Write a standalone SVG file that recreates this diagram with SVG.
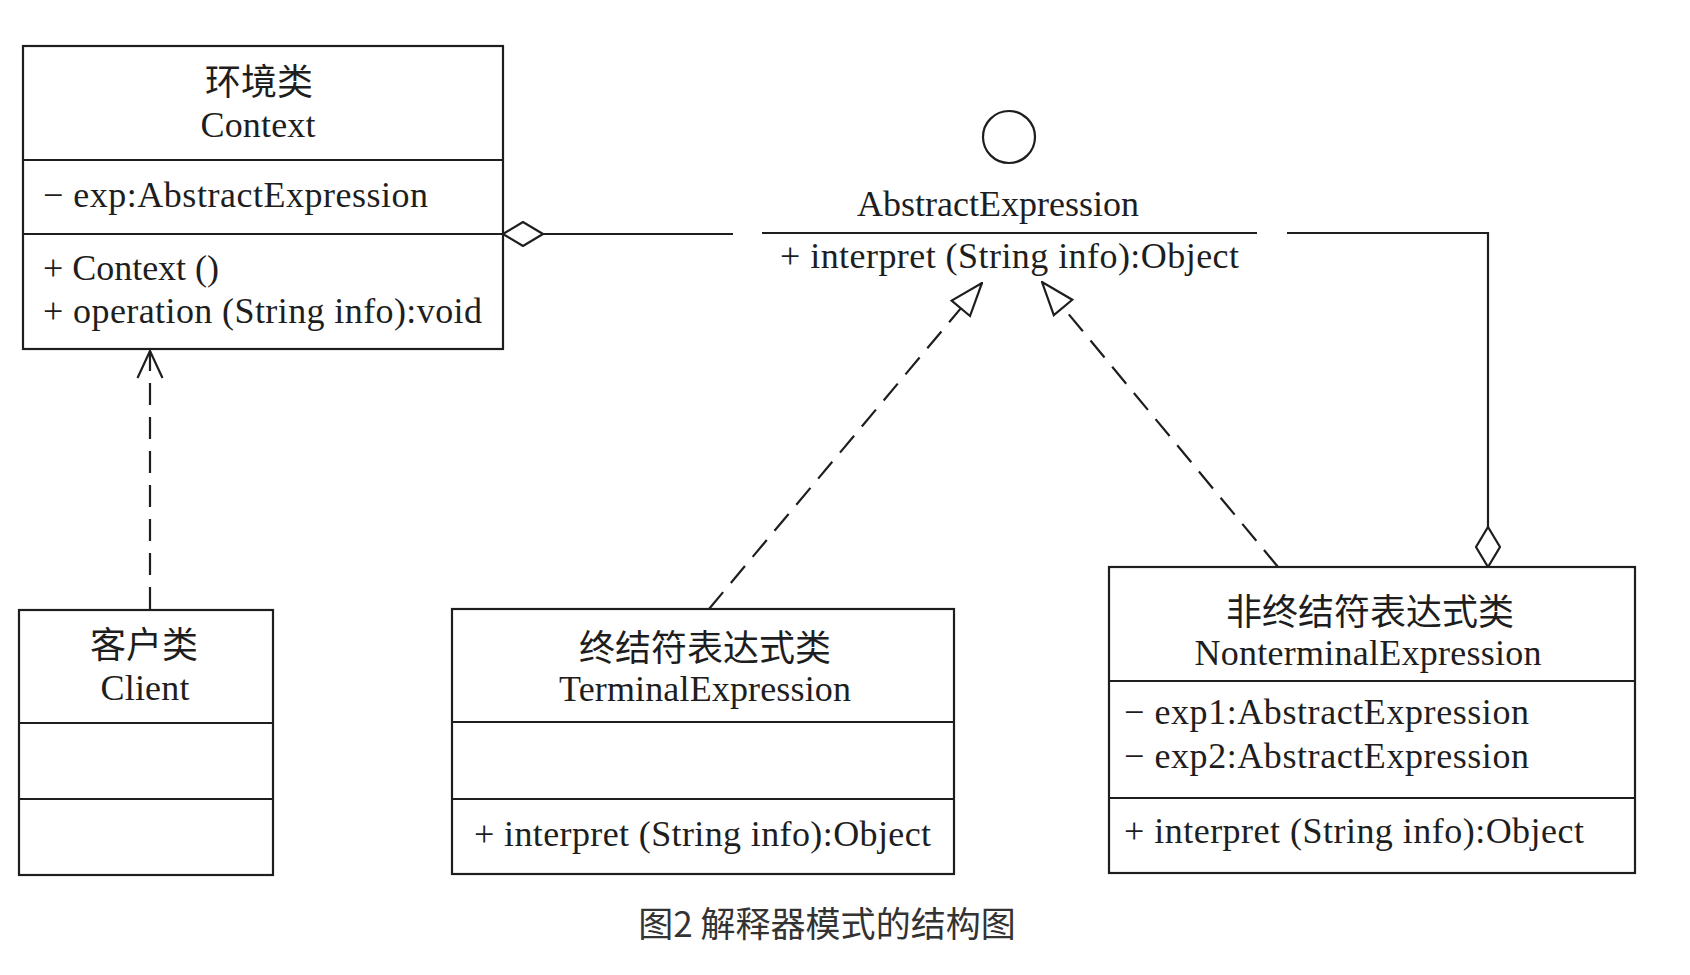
<svg xmlns="http://www.w3.org/2000/svg" width="1690" height="975" viewBox="0 0 1690 975">
<style>
.box{fill:#fff;stroke:#1e1e1e;stroke-width:2.2}
.ln{fill:none;stroke:#1e1e1e;stroke-width:2.2}
.dash{fill:none;stroke:#1e1e1e;stroke-width:2.2;stroke-dasharray:22 12}
.t{font-family:"Liberation Serif","Noto Sans CJK SC",serif;font-size:36px;fill:#1e1e1e}
.c{font-family:"Liberation Serif","Noto Sans CJK SC",serif;font-size:36px;fill:#1e1e1e}
.m{text-anchor:middle}
.cap{font-family:"Noto Sans CJK SC","Liberation Sans",sans-serif;font-size:35px;fill:#333;text-anchor:middle}
</style>
<defs>
<marker id="diamond" viewBox="0 0 42 26" refX="1" refY="13" markerWidth="42" markerHeight="26" markerUnits="userSpaceOnUse" orient="auto">
<path d="M1,13 L21,1 L41,13 L21,25 Z" fill="#fff" stroke="#1e1e1e" stroke-width="2.2" stroke-dasharray="none"/>
</marker>
<marker id="diamondEnd" viewBox="0 0 42 26" refX="41" refY="13" markerWidth="42" markerHeight="26" markerUnits="userSpaceOnUse" orient="auto">
<path d="M1,13 L21,1 L41,13 L21,25 Z" fill="#fff" stroke="#1e1e1e" stroke-width="2.2" stroke-dasharray="none"/>
</marker>
<marker id="hollowTri" viewBox="0 0 36 28" refX="35" refY="14" markerWidth="36" markerHeight="28" markerUnits="userSpaceOnUse" orient="auto">
<path d="M2,2 L35,14 L2,26 Z" fill="#fff" stroke="#1e1e1e" stroke-width="2.2" stroke-dasharray="none"/>
</marker>
<marker id="openArrow" viewBox="0 0 30 28" refX="28" refY="14" markerWidth="30" markerHeight="28" markerUnits="userSpaceOnUse" orient="auto">
<path d="M1,1.5 L28,14 L1,26.5" fill="none" stroke="#1e1e1e" stroke-width="2.2" stroke-dasharray="none"/>
</marker>
</defs>
<rect width="1690" height="975" fill="#fff"/>

<g id="connectors">
<path class="ln" d="M503,234 L733,234" marker-start="url(#diamond)"/>
<path class="ln" d="M1287,233 L1488,233 L1488,567" marker-end="url(#diamondEnd)"/>
<path class="dash" d="M150,609 L150,351" marker-end="url(#openArrow)"/>
<path class="dash" d="M709,609 L982,283" marker-end="url(#hollowTri)"/>
<path class="dash" d="M1278,567 L1042,282" marker-end="url(#hollowTri)"/>
</g>

<g id="context">
<rect class="box" x="23" y="46" width="480" height="303"/>
<line class="ln" x1="23" y1="160" x2="503" y2="160"/>
<line class="ln" x1="23" y1="234" x2="503" y2="234"/>
<text class="c m" x="259" y="95">环境类</text>
<text class="t m" x="258" y="137" textLength="115">Context</text>
<text class="t" x="43" y="207" textLength="385">− exp:AbstractExpression</text>
<text class="t" x="43" y="280" textLength="176">+ Context ()</text>
<text class="t" x="43" y="323" textLength="439">+ operation (String info):void</text>
</g>

<g id="abstractExpression">
<circle class="ln" cx="1009" cy="137" r="26"/>
<text class="t m" x="998" y="216" textLength="282">AbstractExpression</text>
<line class="ln" x1="762" y1="233" x2="1257" y2="233"/>
<text class="t" x="780" y="268" textLength="459">+ interpret (String info):Object</text>
</g>

<g id="client">
<rect class="box" x="19" y="610" width="254" height="265"/>
<line class="ln" x1="19" y1="723" x2="273" y2="723"/>
<line class="ln" x1="19" y1="799" x2="273" y2="799"/>
<text class="c m" x="144" y="658">客户类</text>
<text class="t m" x="145" y="700" textLength="89">Client</text>
</g>

<g id="terminalExpression">
<rect class="box" x="452" y="609" width="502" height="265"/>
<line class="ln" x1="452" y1="722" x2="954" y2="722"/>
<line class="ln" x1="452" y1="799" x2="954" y2="799"/>
<text class="c m" x="705" y="661">终结符表达式类</text>
<text class="t m" x="705" y="701" textLength="292">TerminalExpression</text>
<text class="t" x="474" y="846" textLength="457">+ interpret (String info):Object</text>
</g>

<g id="nonterminalExpression">
<rect class="box" x="1109" y="567" width="526" height="306"/>
<line class="ln" x1="1109" y1="681" x2="1635" y2="681"/>
<line class="ln" x1="1109" y1="798" x2="1635" y2="798"/>
<text class="c m" x="1370" y="625">非终结符表达式类</text>
<text class="t m" x="1368" y="665" textLength="347">NonterminalExpression</text>
<text class="t" x="1124" y="724" textLength="405">− exp1:AbstractExpression</text>
<text class="t" x="1124" y="768" textLength="405">− exp2:AbstractExpression</text>
<text class="t" x="1124" y="843" textLength="460">+ interpret (String info):Object</text>
</g>

<g id="caption">
<text class="cap" x="827" y="937">图2 解释器模式的结构图</text>
</g>
</svg>
